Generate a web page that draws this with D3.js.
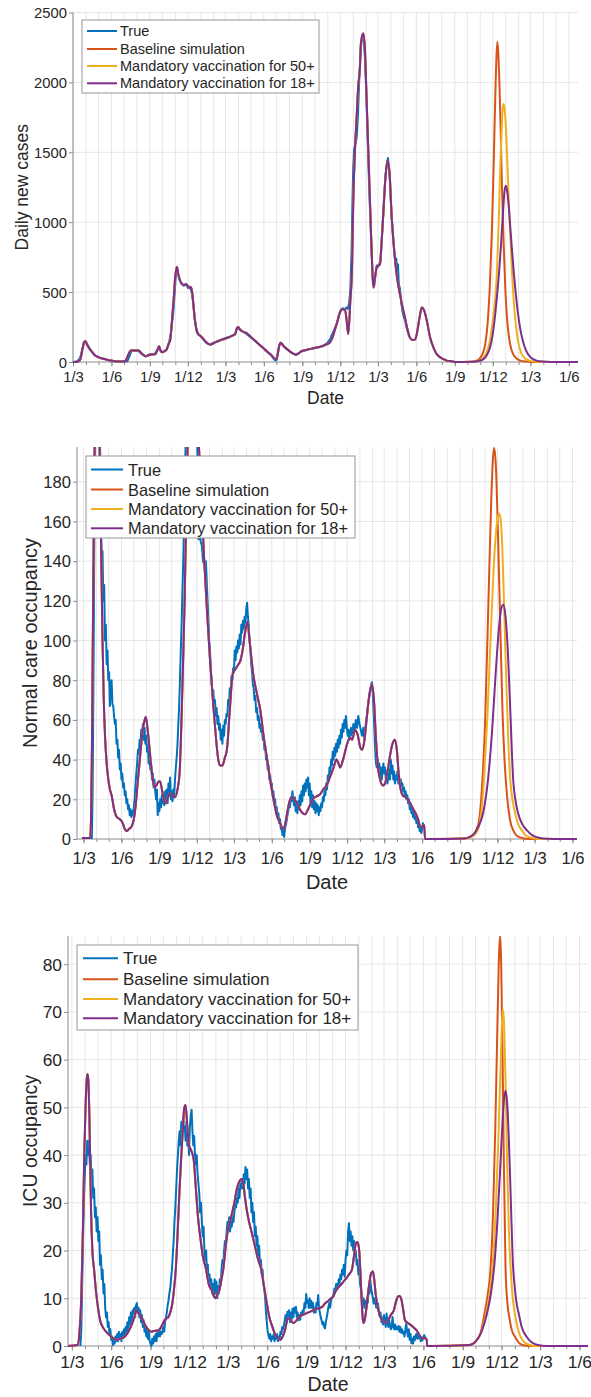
<!DOCTYPE html>
<html><head><meta charset="utf-8">
<script src="https://cdn.jsdelivr.net/npm/d3@7/dist/d3.min.js"></script>
<style>
html,body{margin:0;padding:0;background:#fff;}
svg{display:block;}
</style></head><body>
<svg id="chart" width="591" height="1397"></svg>
<script>
// ---------- shared data ----------
const startDateStr = "2020-03-01"; // day 0 of every series below
const seriesNames = ["True", "Baseline simulation", "Mandatory vaccination for 50+", "Mandatory vaccination for 18+"];
const seriesColors = ["#0072BD", "#D95319", "#EDB120", "#7E2F8E"];
const majorTickDates = ["2020-03-01","2020-06-01","2020-09-01","2020-12-01","2021-03-01","2021-06-01","2021-09-01","2021-12-01","2022-03-01","2022-06-01","2022-09-01","2022-12-01","2023-03-01","2023-06-01"];
const casesTicks = [0, 500, 1000, 1500, 2000, 2500];
const wardTicks = [0, 20, 40, 60, 80, 100, 120, 140, 160, 180];
const icuTicks = [0, 10, 20, 30, 40, 50, 60, 70, 80];
const yLabels = ["Daily new cases", "Normal care occupancy", "ICU occupancy"];
const xLabel = "Date";

// ---------- panel 1: daily new cases  [day, value] ----------
const casesTrue = [[0,0],[8,3],[14,15],[18,40],[22,90],[26,140],[30,145],[34,120],[40,90],[46,70],[52,48],[60,35],[70,24],[80,17],[90,10],[100,6],[110,4],[120,3],[130,5],[135,40],[140,80],[150,83],[156,80],[165,55],[174,42],[183,52],[195,56],[203,95],[206,110],[210,75],[216,72],[224,90],[230,140],[235,220],[240,350],[244,520],[247,650],[249,680],[252,620],[256,580],[260,560],[265,545],[270,560],[275,530],[280,540],[284,500],[288,420],[292,300],[296,220],[300,195],[306,185],[312,160],[318,140],[322,130],[328,124],[334,135],[340,142],[347,150],[355,160],[362,168],[369,175],[376,182],[382,190],[388,200],[393,245],[397,240],[402,225],[408,215],[415,200],[424,180],[433,158],[442,135],[451,110],[460,85],[469,62],[476,42],[480,25],[484,12],[487,10],[490,60],[494,120],[497,135],[501,125],[505,110],[512,90],[519,75],[526,62],[533,52],[540,62],[546,75],[553,82],[560,86],[567,92],[574,96],[580,100],[588,106],[596,114],[604,125],[610,140],[616,165],[620,195],[625,230],[630,265],[634,300],[638,350],[642,375],[646,385],[650,370],[654,390],[658,380],[661,420],[664,520],[667,800],[669,1150],[671,1400],[673,1520],[676,1560],[679,1600],[682,1750],[685,2000],[688,2200],[691,2300],[694,2340],[697,2280],[700,2100],[703,1850],[706,1550],[709,1250],[712,1000],[715,780],[718,560],[721,540],[724,620],[727,690],[730,680],[733,700],[736,720],[739,860],[742,1030],[745,1200],[748,1320],[750,1380],[752,1430],[754,1460],[756,1400],[758,1340],[760,1200],[763,1040],[766,920],[769,800],[772,700],[774,740],[776,620],[778,700],[780,560],[783,520],[786,420],[789,360],[792,320],[795,300],[798,250],[801,220],[804,190],[807,175]];
const casesSimHistory = [[0,0],[10,2],[16,10],[20,50],[24,110],[27,145],[30,148],[34,125],[40,95],[46,70],[52,50],[60,35],[70,25],[80,18],[90,10],[100,6],[110,4],[120,3],[126,10],[132,50],[138,82],[150,83],[157,82],[165,60],[174,40],[180,48],[185,54],[197,56],[202,85],[206,112],[210,80],[213,70],[218,75],[224,88],[229,130],[233,160],[237,300],[241,450],[245,620],[249,680],[252,630],[256,585],[262,555],[268,550],[272,555],[278,530],[283,535],[287,450],[291,320],[295,240],[300,200],[306,184],[312,165],[318,145],[323,132],[328,124],[334,130],[340,140],[347,148],[355,158],[362,165],[369,172],[376,180],[383,190],[388,198],[393,245],[396,250],[399,235],[405,220],[415,208],[424,185],[433,160],[442,135],[451,112],[460,88],[469,64],[476,45],[480,32],[483,25],[487,20],[491,70],[494,120],[497,138],[500,130],[505,112],[512,94],[519,76],[526,62],[533,52],[540,62],[546,76],[553,82],[560,88],[569,94],[578,100],[587,106],[596,112],[605,124],[614,136],[619,160],[623,190],[628,240],[633,290],[638,345],[644,378],[651,378],[655,300],[659,200],[664,440],[668,675],[671,1150],[675,1510],[679,1750],[683,1980],[687,2107],[689,2270],[692,2330],[695,2350],[699,2230],[703,1870],[707,1510],[711,1150],[715,790],[719,532],[723,605],[727,677],[731,690],[735,700],[739,866],[743,1060],[748,1320],[753,1440],[758,1345],[763,1035],[769,795],[775,622],[783,480],[789,390],[795,315],[801,230],[807,172],[813,158],[819,160],[823,200],[827,270],[831,340],[835,390],[841,365],[847,295],[855,175],[863,103],[869,65],[875,43],[887,20],[895,10],[903,7],[919,0]];
const casesBaselineTail = [[930,0],[955,2],[965,8],[972,20],[980,55],[987,130],[993,290],[998,550],[1003,950],[1007,1400],[1011,1900],[1014,2200],[1016,2290],[1018,2220],[1021,1980],[1024,1650],[1027,1250],[1031,850],[1035,520],[1039,315],[1044,170],[1049,95],[1054,55],[1062,25],[1071,10],[1085,3],[1100,0.5],[1120,0],[1209,0]];
const cases50Tail = [[930,0],[955,1],[968,6],[980,22],[990,70],[998,150],[1005,300],[1010,430],[1015,650],[1018,900],[1022,1300],[1026,1650],[1029,1820],[1031,1845],[1034,1790],[1037,1640],[1040,1420],[1043,1170],[1047,900],[1051,640],[1055,440],[1060,270],[1066,140],[1073,65],[1082,25],[1092,10],[1105,3],[1120,1],[1140,0],[1209,0]];
const cases18Tail = [[930,0],[955,1],[968,5],[980,15],[990,45],[998,100],[1005,200],[1010,320],[1015,470],[1020,640],[1025,850],[1029,1050],[1033,1220],[1036,1260],[1039,1230],[1043,1120],[1047,960],[1051,800],[1055,650],[1059,520],[1064,380],[1070,250],[1077,150],[1085,80],[1095,35],[1108,12],[1125,3],[1145,0.5],[1170,0],[1209,0]];

// ---------- panel 2: normal care occupancy ----------
const wardTrue = [[20,0],[22,25],[24,80],[26,150],[28,200],[31,230],[34,240],[37,225],[40,200],[42,165],[44,137],[46,145],[48,120],[50,128],[52,100],[54,108],[56,88],[58,95],[60,80],[62,84],[64,67],[66,78],[68,80],[70,68],[72,67],[74,62],[76,58],[78,60],[80,48],[82,50],[84,41],[86,45],[88,35],[90,38],[92,30],[94,33],[96,26],[98,28],[100,22],[102,24],[104,18],[106,20],[108,15],[110,17],[112,12],[114,15],[116,11],[118,14],[120,12],[122,16],[124,20],[126,27],[128,33],[130,38],[132,45],[134,43],[136,50],[138,48],[140,55],[142,52],[144,58],[146,50],[148,56],[150,48],[152,52],[154,44],[156,47],[158,38],[160,42],[162,35],[164,38],[166,30],[168,33],[170,26],[172,30],[174,24],[176,20],[178,25],[180,12],[182,18],[184,14],[186,20],[188,16],[190,22],[192,18],[194,21],[196,17],[198,24],[200,20],[202,25],[204,18],[206,28],[208,22],[210,31],[212,20],[214,24],[216,19],[218,25],[220,22],[222,30],[224,36],[226,41],[228,48],[230,58],[232,67],[234,80],[236,95],[238,108],[240,125],[242,140],[244,160],[246,180],[248,200],[252,215],[258,230],[263,240],[268,235],[273,220],[276,200],[278,170],[279,151],[281,165],[284,150],[287,148],[290,140],[293,138],[295,135],[297,140],[299,130],[301,120],[303,110],[305,100],[307,95],[309,85],[311,80],[313,72],[315,75],[317,68],[319,70],[321,62],[323,66],[325,58],[327,62],[329,55],[331,58],[333,50],[335,55],[337,48],[339,57],[341,52],[343,60],[345,58],[347,63],[349,62],[351,70],[353,68],[355,76],[357,73],[359,82],[361,80],[363,86],[365,84],[367,95],[369,90],[371,97],[373,94],[375,100],[377,96],[379,103],[381,98],[383,108],[385,104],[387,110],[389,106],[391,112],[393,109],[395,116],[397,119],[399,112],[401,108],[403,100],[405,96],[407,88],[409,84],[411,78],[413,76],[415,70],[417,72],[419,64],[421,66],[423,60],[425,62],[427,56],[429,58],[431,54],[433,56],[435,50],[437,52],[439,45],[441,47],[443,40],[445,42],[447,35],[449,37],[451,30],[453,32],[455,26],[457,28],[459,22],[461,24],[463,18],[465,20],[467,14],[469,16],[471,11],[473,13],[475,8],[477,10],[479,5],[481,6],[483,2],[485,4],[487,1],[489,5],[491,7],[493,9],[495,12],[497,14],[499,18],[501,16],[503,21],[505,19],[507,24],[509,20],[511,17],[513,21],[515,14],[517,18],[519,13],[521,19],[523,15],[525,22],[527,17],[529,24],[531,19],[533,27],[535,22],[537,28],[539,24],[541,30],[543,26],[545,31],[547,22],[549,28],[551,18],[553,24],[555,16],[557,22],[559,15],[561,19],[563,13],[565,18],[567,14],[569,17],[571,12],[573,16],[575,14],[577,18],[579,16],[581,21],[583,19],[585,24],[587,22],[589,28],[591,25],[593,32],[595,29],[597,36],[599,33],[601,40],[603,37],[605,44],[607,40],[609,46],[611,42],[613,48],[615,44],[617,50],[619,46],[621,52],[623,48],[625,55],[627,51],[629,58],[631,54],[633,60],[635,56],[637,62],[639,57],[641,52],[643,55],[645,50],[647,53],[649,56],[652,52],[655,58],[658,54],[661,60],[664,56],[667,62],[670,58],[673,55],[676,52],[679,56],[682,50],[685,58],[688,62],[691,68],[694,72],[697,76],[700,79],[702,74],[704,65],[706,55],[708,45],[710,38],[712,36],[714,40],[716,34],[718,38],[720,32],[722,36],[724,30],[726,35],[728,38],[730,33],[732,36],[734,30],[736,34],[738,28],[740,32],[742,35],[744,30],[746,40],[748,33],[750,37],[752,30],[754,34],[756,28],[758,32],[760,30],[762,34],[764,28],[766,31],[768,27],[770,30],[772,27],[774,28],[776,24],[778,26],[780,22],[782,24],[784,20],[786,22],[788,18],[790,20],[792,15],[794,18],[796,13],[798,15],[800,11],[802,14],[804,10],[806,13],[808,8],[810,11],[812,6],[814,9],[816,4],[818,6],[820,3],[822,5],[824,8],[826,6],[827,7]];
const wardSimHistory = [[-4,0.5],[16,0.5],[18,10],[20,40],[22,90],[24,140],[26,185],[28,215],[31,235],[34,230],[37,215],[40,185],[43,140],[46,100],[49,70],[52,52],[56,38],[60,30],[64,25],[68,22],[74,15],[81,11],[88,10],[95,8],[100,5],[105,4],[110,5],[117,6.5],[122,10],[127,18],[132,30],[137,41],[142,52],[147,59],[151,61.5],[155,56],[159,48],[164,37],[168,30],[172,26],[177,27],[182,29],[186,29],[191,24],[196,19],[200,18],[205,21],[210,23],[215,22],[222,21],[228,25],[233,33],[237,55],[241,85],[245,117],[248,150],[251,184],[254,210],[258,235],[263,245],[268,240],[273,225],[278,205],[282,190],[287,167],[293,140],[299,117],[307,90],[315,67],[321,52],[327,40],[332,37],[337,37],[343,41],[348,45],[355,65],[362,83],[370,86],[376,88],[381,90],[386,95],[392,104],[398,109.5],[402,102],[407,92],[412,83],[420,74],[429,65],[437,52],[445,41],[453,30],[461,20],[469,12],[477,8],[485,5],[490,8],[495,14],[500,19],[506,21],[512,20],[518,18],[525,15],[532,13],[538,12.5],[545,15],[552,18],[558,20.5],[566,21.5],[574,22.5],[582,25],[590,27],[598,31],[607,36],[614,40],[619,38],[623,36],[630,40],[640,48],[647,51],[652,50],[659,55],[666,52],[672,46],[676,45],[682,50],[688,62],[694,73],[700,78],[705,70],[710,50],[715,36],[720,30],[727,27],[732,28],[738,34],[744,42],[750,48],[756,50],[761,44],[765,33],[769,26],[775,22],[782,21],[790,19],[798,16],[806,13],[812,10],[817,6.5],[822,6],[827,7],[829,0]];
const wardBaselineTail = [[845,0],[920,0.2],[940,1],[952,4],[960,9],[967,25],[975,60],[983,120],[990,172],[994,192],[997,197],[1001,188],[1006,155],[1012,105],[1017,65],[1022,40],[1028,22],[1035,10],[1044,4],[1055,1.2],[1070,0.3],[1090,0],[1198,0]];
const ward50Tail = [[845,0],[925,0.3],[945,1.5],[958,5],[966,14],[972,30],[980,60],[988,100],[996,138],[1003,158],[1008,164],[1012,162],[1017,145],[1022,110],[1027,75],[1032,45],[1036,30],[1042,19],[1048,13],[1056,7],[1064,4.5],[1075,1.5],[1090,0.5],[1105,0],[1198,0]];
const ward18Tail = [[845,0],[925,0.3],[945,2],[958,6],[970,13],[982,30],[992,55],[1001,85],[1008,105],[1014,116],[1019,118],[1024,113],[1030,95],[1036,65],[1043,30],[1049,19],[1055,13],[1065,7.5],[1076,4.5],[1090,1.8],[1108,0.5],[1130,0.1],[1150,0],[1198,0]];

// ---------- panel 3: ICU occupancy ----------
const icuTrue = [[20,0],[22,3],[24,12],[26,22],[28,30],[30,35],[32,40],[34,38],[36,43],[38,40],[40,43],[42,38],[44,40],[46,35],[48,37],[50,31],[52,33],[54,27],[56,29],[58,24],[60,27],[62,22],[64,24],[66,17],[68,19],[70,14],[72,16],[74,11],[76,13],[78,8],[80,6],[82,7],[84,4],[86,5],[88,2.5],[90,3.5],[92,1.3],[94,2],[96,0.2],[98,1.5],[100,0.5],[102,2],[104,1],[106,2.5],[108,1],[110,3],[112,1.5],[114,2.5],[116,1],[118,3],[120,2],[122,3.5],[124,2.5],[126,4],[128,3],[130,5],[132,3.3],[134,6],[136,4.5],[138,7],[140,5],[142,7.5],[144,6.8],[146,8],[148,6],[150,8.5],[152,9],[154,7.5],[156,8],[158,6],[160,7.5],[162,5],[164,6.5],[166,4],[168,5.4],[170,3],[172,4],[174,2],[176,3.5],[178,1.5],[180,3],[182,1],[184,0.5],[186,0],[188,1.5],[190,0.5],[192,2],[194,1],[196,2.5],[198,1],[200,3],[202,2],[204,3.5],[206,2],[208,3],[210,2.5],[212,3],[214,4],[216,3],[218,5],[220,6],[222,7],[224,8.5],[226,9.5],[228,11],[230,12],[232,14],[234,16],[236,19],[238,22],[240,26],[242,29],[244,33],[246,37],[248,40],[250,43],[252,45],[254,42],[256,47],[258,44],[260,48],[262,45],[264,46],[266,43],[268,47],[270,42],[272,44],[274,40],[276,46],[278,48],[280,49.5],[282,45],[284,42],[286,44],[288,40],[290,38],[292,40],[294,36],[296,34],[298,32],[300,28],[302,30],[304,26],[306,23],[308,25],[310,20],[312,18],[314,20],[316,15],[318,17],[320,13],[322,15],[324,12],[326,14],[328,11],[330,13],[332,10.5],[334,14],[336,11],[338,13.5],[340,10],[342,12.5],[344,11],[346,14],[348,13],[350,16],[352,18],[354,17],[356,20],[358,22],[360,21],[362,24],[364,26],[366,25],[368,27],[370,24],[372,26],[374,25],[376,27],[378,26],[380,28],[382,30],[384,29],[386,31],[388,30],[390,33],[392,31],[394,34],[396,33],[398,35],[400,33],[402,36],[404,34],[406,37.5],[408,35],[410,37],[412,33],[414,35],[416,31],[418,33],[420,28],[422,30],[424,26],[426,28],[428,23],[430,25],[432,21],[434,23],[436,19],[438,21],[440,17],[442,18],[444,15],[446,16],[448,13],[450,12.4],[452,10],[454,7],[456,5],[458,3],[460,2.3],[462,1.5],[464,2.5],[466,1],[468,2],[470,1.5],[472,2.5],[474,1],[476,2],[478,1.5],[480,2.5],[482,1],[484,2],[486,1.5],[488,3],[490,2.5],[492,4],[494,3.5],[496,4.4],[498,5.5],[500,6.5],[502,5],[504,7.2],[506,6],[508,7.5],[510,5],[512,7],[514,5.5],[516,7.8],[518,6],[520,8],[522,7],[524,8.2],[526,6],[528,7],[530,5.4],[532,6.5],[534,5.5],[536,7],[538,6.5],[540,7.5],[542,7],[544,9],[546,8],[548,10.9],[550,9],[552,9.6],[554,8],[556,10],[558,8],[560,9.5],[562,8],[564,9],[566,7],[568,8],[570,7],[572,9],[574,8.5],[576,10.7],[578,8],[580,7],[582,6],[584,5.4],[586,4.5],[588,5],[590,4],[592,3.7],[594,5],[596,6],[598,7],[600,8.2],[602,9],[604,8],[606,9.5],[608,10],[610,10.3],[612,11],[614,12],[616,11.5],[618,13],[620,13],[622,12],[624,14],[626,13],[628,15],[630,14],[632,16],[634,15],[636,17],[638,14.5],[640,18],[642,20],[644,19],[646,24],[648,25.7],[650,22],[652,24],[654,21],[656,23],[658,20],[660,22],[662,19],[664,20],[666,17],[668,18],[670,15],[672,16],[674,13],[676,12],[678,10],[680,9],[682,10],[684,8],[686,9.5],[688,7.5],[690,10],[692,9],[694,12],[696,11],[698,13.8],[700,12],[702,11],[704,10],[706,8.9],[708,10],[710,9],[712,8],[714,9],[716,8.9],[718,7],[720,6.1],[722,7],[724,5],[726,6],[728,4.5],[730,6.5],[732,5],[734,4],[736,6.8],[738,5],[740,4],[742,5.5],[744,4.2],[746,3.5],[748,4],[750,6.1],[752,4],[754,3.5],[756,4.5],[758,3.5],[760,4],[762,3.5],[764,4.2],[766,3],[768,4],[770,2.8],[772,3.5],[774,2.6],[776,3],[778,2],[780,3.5],[782,4.8],[784,3],[786,2],[788,3.5],[790,1.3],[792,2.5],[794,0.6],[796,1.5],[798,0.5],[800,2],[802,1.2],[804,2.2],[806,2.6],[808,1.5],[810,2.6],[812,1.6],[814,2],[816,1],[818,1.6],[820,1.2],[822,2],[824,2.3],[826,1.8],[828,1.5]];
const icuSimHistory = [[-9,0],[14,0.2],[18,3],[22,10],[26,25],[29,40],[32,50],[35,56],[37,57],[39,55],[41,48],[43,38],[45,28],[48,20],[52,16],[57,11],[62,7.5],[66,5.4],[72,4],[80,3],[88,2.3],[97,1.6],[106,1.3],[115,1.6],[124,2],[132,3],[140,4.5],[146,6],[151,7.5],[156,6.8],[164,5.8],[172,4.3],[180,3.3],[186,3],[195,3.2],[204,3.3],[210,4.2],[217,5.4],[222,5.8],[226,6.1],[230,7],[235,8.9],[239,12],[243,16],[248,25],[252,33],[256,40],[260,46],[263,50],[266,50.5],[270,46],[274,42],[279,41],[285,39],[290,33],[295,27],[300,23],[306,19],[314,16],[320,13],[327,11.7],[332,10.5],[336,10],[341,11],[345,11.7],[350,14],[354,16],[360,21],[366,25],[370,26],[375,28],[380,30],[386,33],[392,34.5],[397,35],[401,34],[405,31],[412,27],[420,24],[428,21],[436,18],[443,16],[450,12],[456,8.9],[462,6],[469,4],[475,2.5],[481,1.8],[487,1.3],[493,2],[499,3.5],[505,5.8],[511,5.5],[518,4.8],[524,5.2],[531,6.1],[540,6.5],[549,6.9],[558,7.2],[567,7.6],[576,7.9],[585,8.2],[593,9],[600,9.5],[606,10],[611,10.3],[617,11.5],[622,12.2],[629,12.8],[635,13.5],[642,14.2],[648,15],[655,16],[660,19],[664,21.5],[668,21.8],[672,20],[675,15],[678,9],[680,6],[682,4.8],[685,5.5],[689,8],[694,12],[699,15],[702,15.5],[704,15.6],[707,14],[711,10.5],[717,7.5],[722,6],[726,5.4],[730,5],[735,5],[740,5.5],[746,6.5],[753,7.5],[758,9.3],[762,10.3],[766,10.5],[771,9.6],[775,7.5],[779,5.4],[786,4.8],[793,4.4],[800,3.8],[806,3.3],[812,2.4],[819,1.6],[828,1.6],[830,1.2],[831,0]];
const icuBaselineTail = [[840,0],[930,0.2],[945,1],[955,2.5],[965,6.8],[972,10.5],[979,16],[985,28],[990,45],[994,62],[998,79],[1001,86],[1004,80],[1007,62],[1010,40],[1014,17],[1018,9.5],[1023,6],[1030,3],[1036,2],[1045,0.7],[1054,0.2],[1070,0],[1207,0]];
const icu50Tail = [[840,0],[930,0.2],[945,1],[958,3],[968,6.5],[977,11],[985,18],[992,30],[998,45],[1003,60],[1006,68],[1008,70.5],[1011,67],[1014,56],[1018,38],[1022,24],[1027,15],[1031,10],[1036,6.8],[1042,4],[1049,2],[1058,0.8],[1071,0.2],[1085,0],[1207,0]];
const icu18Tail = [[840,0],[930,0.2],[945,1],[958,3],[970,6.5],[980,11],[988,17],[995,26],[1001,36],[1006,45],[1010,51],[1014,53.5],[1018,51],[1022,43],[1026,32],[1031,18],[1036,12],[1040,9],[1045,6.8],[1052,4],[1063,2],[1075,0.8],[1090,0.2],[1110,0],[1207,0]];

// ---------- layout (positions / styles only) ----------
const FONT = '"Liberation Sans", Arial, Helvetica, sans-serif';
const TEXT = "#262626", AXIS = "#8c8c8c", GRID = "#e6e6e6";
const panels = [
  { data: [casesTrue, casesSimHistory, [casesBaselineTail, cases50Tail, cases18Tail]], ticks: casesTicks, yMax: 2500, label: yLabels[0],
    dayRange: [0, 1209], left: 73, right: 578, top: 12.5, bottom: 362,
    tickFont: 14.8, labelFont: 17.5, yLabelX: 22, xLabelY: 398, xLabelFont: 17.5, tickLabelY: 377, yTickGap: 6,
    legend: { x: 82, y: 20, w: 237, h: 73, x0: 87, x1: 117, tx: 120, rows: [31, 49, 66, 83.3], font: 14.5 } },
  { data: [wardTrue, wardSimHistory, [wardBaselineTail, ward50Tail, ward18Tail]], ticks: wardTicks, yMax: 197.5, label: yLabels[1],
    dayRange: [-16, 1198], left: 77, right: 577, top: 447, bottom: 839,
    tickFont: 16.6, labelFont: 20, yLabelX: 30, xLabelY: 882, xLabelFont: 20, tickLabelY: 858, yTickGap: 6,
    legend: { x: 86, y: 456, w: 269, h: 82, x0: 91, x1: 123, tx: 128, rows: [469.5, 489.5, 509, 528.3], font: 16.4 } },
  { data: [icuTrue, icuSimHistory, [icuBaselineTail, icu50Tail, icu18Tail]], ticks: icuTicks, yMax: 85.9, label: yLabels[2],
    dayRange: [-9, 1207], left: 68, right: 588, top: 936, bottom: 1346,
    tickFont: 17.4, labelFont: 19.5, yLabelX: 30, xLabelY: 1384, xLabelFont: 19.5, tickLabelY: 1362, yTickGap: 6,
    legend: { x: 77, y: 945, w: 281, h: 85, x0: 83, x1: 118, tx: 123, rows: [958.3, 979.3, 999, 1018.3], font: 17 } }
];

const svg = d3.select("#chart").attr("font-family", FONT);
const parseDate = d3.timeParse("%Y-%m-%d");
const startDate = parseDate(startDateStr);
const dayToDate = d => d3.timeDay.offset(startDate, d);
const fmt = d3.timeFormat("%-d/%-m");
const majorDates = majorTickDates.map(parseDate);

panels.forEach((p, pi) => {
  const g = svg.append("g");
  const x = d3.scaleTime().domain([dayToDate(p.dayRange[0]), dayToDate(p.dayRange[1])]).range([p.left, p.right]);
  const y = d3.scaleLinear().domain([0, p.yMax]).range([p.bottom, p.top]);
  const months = d3.timeMonth.range(x.domain()[0], d3.timeDay.offset(x.domain()[1], 1)).filter(d => d <= x.domain()[1]);
  const majors = majorDates.filter(d => d >= x.domain()[0] && d <= x.domain()[1]);

  // grid
  g.append("g").selectAll("line").data(months).join("line")
    .attr("x1", d => x(d)).attr("x2", d => x(d)).attr("y1", p.top).attr("y2", p.bottom)
    .attr("stroke", GRID).attr("stroke-width", 1);
  g.append("g").selectAll("line").data(p.ticks.filter(t => t > 0)).join("line")
    .attr("x1", p.left).attr("x2", p.right).attr("y1", d => y(d)).attr("y2", d => y(d))
    .attr("stroke", GRID).attr("stroke-width", 1);

  // x axis: minor monthly ticks, major labelled ticks
  const xMinor = g.append("g").attr("transform", `translate(0,${p.bottom})`)
    .call(d3.axisBottom(x).tickValues(months).tickSize(3).tickFormat(""));
  const xMajor = g.append("g").attr("transform", `translate(0,${p.bottom})`)
    .call(d3.axisBottom(x).tickValues(majors).tickSize(4.5).tickFormat(fmt));
  [xMinor, xMajor].forEach(a => { a.attr("color", AXIS); a.select(".domain").remove(); });
  xMajor.attr("font-family", FONT).attr("font-size", p.tickFont);
  xMajor.selectAll("text").attr("fill", TEXT).attr("y", p.tickLabelY - p.bottom).attr("dy", "0.35em");

  // y axis
  const yAx = g.append("g").attr("transform", `translate(${p.left},0)`)
    .call(d3.axisLeft(y).tickValues(p.ticks).tickSize(4).tickFormat(d3.format("d")));
  yAx.attr("color", AXIS).attr("font-family", FONT).attr("font-size", p.tickFont);
  yAx.select(".domain").remove();
  yAx.selectAll("text").attr("fill", TEXT).attr("x", -p.yTickGap).attr("dy", "0.35em");

  // axis lines
  g.append("line").attr("x1", p.left).attr("x2", p.left).attr("y1", p.top).attr("y2", p.bottom).attr("stroke", AXIS);
  g.append("line").attr("x1", p.left).attr("x2", p.right).attr("y1", p.bottom).attr("y2", p.bottom).attr("stroke", AXIS);

  // labels
  g.append("text").text(p.label).attr("transform", `translate(${p.yLabelX},${(p.top + p.bottom) / 2}) rotate(-90)`)
    .attr("text-anchor", "middle").attr("dominant-baseline", "central").attr("font-size", p.labelFont).attr("fill", TEXT);
  g.append("text").text(xLabel).attr("x", (p.left + p.right) / 2).attr("y", p.xLabelY)
    .attr("text-anchor", "middle").attr("dominant-baseline", "central").attr("font-size", p.xLabelFont).attr("fill", TEXT);

  // clip
  const clipId = "clip" + pi;
  svg.append("clipPath").attr("id", clipId).append("rect")
    .attr("x", p.left - 2).attr("y", p.top).attr("width", p.right - p.left + 4).attr("height", p.bottom - p.top + 3);

  const [trueData, history, tails] = p.data;
  const series = [trueData, history.concat(tails[0]), history.concat(tails[1]), history.concat(tails[2])];
  const lineLinear = d3.line().x(d => x(dayToDate(d[0]))).y(d => y(d[1]));
  const lineSmooth = d3.line().x(d => x(dayToDate(d[0]))).y(d => y(d[1])).curve(d3.curveMonotoneX);
  const lg = g.append("g").attr("clip-path", `url(#${clipId})`);
  series.forEach((s, si) => {
    lg.append("path").datum(s).attr("d", si === 0 ? lineLinear : lineSmooth)
      .attr("fill", "none").attr("stroke", seriesColors[si]).attr("stroke-width", 2)
      .attr("stroke-linejoin", "round");
  });

  // legend
  const L = p.legend;
  const leg = g.append("g");
  leg.append("rect").attr("x", L.x).attr("y", L.y).attr("width", L.w).attr("height", L.h)
    .attr("fill", "#fff").attr("stroke", AXIS).attr("stroke-width", 0.9);
  seriesNames.forEach((n, i) => {
    leg.append("line").attr("x1", L.x0).attr("x2", L.x1).attr("y1", L.rows[i]).attr("y2", L.rows[i])
      .attr("stroke", seriesColors[i]).attr("stroke-width", 2);
    leg.append("text").text(n).attr("x", L.tx).attr("y", L.rows[i]).attr("dominant-baseline", "central")
      .attr("font-size", L.font).attr("fill", TEXT);
  });
});
</script>
</body></html>
